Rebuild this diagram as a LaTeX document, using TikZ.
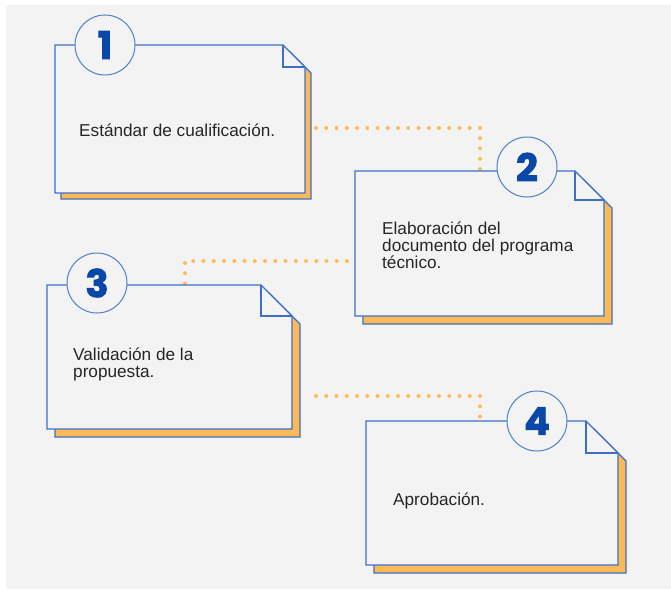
\documentclass[tikz,border=0pt]{standalone}
\usepackage{fontspec}
\setmainfont{Liberation Sans}
\newfontfamily\numfont[BoldFeatures={FakeBold=2.5}]{Poppins}

\definecolor{bggray}{HTML}{F3F3F3}
\definecolor{cardblue}{HTML}{3D6FC6}
\definecolor{ringblue}{HTML}{4F7FCB}
\definecolor{numblue}{HTML}{0B47A8}
\definecolor{shadoworange}{HTML}{FDB955}
\definecolor{dotorange}{HTML}{FFBB55}
\definecolor{textgray}{HTML}{262626}

\tikzset{
  cardback/.style={fill=shadoworange, draw=cardblue, line width=1.1pt},
  cardfront/.style={fill=bggray, draw=cardblue, line width=1.1pt, line join=miter},
  numdisc/.style={circle, minimum size=60pt, inner sep=0pt, fill=bggray,
    draw=ringblue, line width=1pt, text=numblue,
    font=\numfont\bfseries\fontsize{38}{38}\selectfont},
  % base of a multi-line text is its last line
  cardtext/.style={anchor=base west, inner sep=0pt, align=left, text=textgray,
    font=\fontsize{17.2}{16.6}\selectfont},
  dotline/.style={draw=dotorange, line width=4pt, line cap=round,
    dash pattern=on 0pt off 10.25pt},
}

% #1 name, #2 left, #3 top, #4 right, #5 bottom, #6 fold, #7 shadow shift
\newcommand{\notecard}[7]{%
  \draw[cardback] (#2+#7,#3+#7) -- (#4-#6+#7,#3+#7) -- (#4+#7,#3+#6+#7)
    -- (#4+#7,#5+#7) -- (#2+#7,#5+#7) -- cycle;
  \draw[cardfront] (#2,#3) -- (#4-#6,#3) -- (#4,#3+#6) -- (#4,#5) -- (#2,#5) -- cycle;
  \draw[cardfront, fill=none] (#4-#6,#3) -- (#4-#6,#3+#6) -- (#4,#3+#6);
  \coordinate (#1) at (#2,#3);
}

\begin{document}
\begin{tikzpicture}[x=1pt, y=-1pt]
  \useasboundingbox (0,0) rectangle (671,589);
  \fill[bggray] (6,5) rectangle (671,589);

  % Dotted links between the steps
  \coordinate (s12) at (316,128);
  \coordinate (e12) at (480,171);
  \coordinate (s23) at (347,261);
  \coordinate (e23) at (185,285);
  \coordinate (s34) at (316,396);
  \coordinate (e34) at (480,421);
  \draw[dotline] (s12) -| (e12);
  \draw[dotline] (s23) -| (e23);
  \draw[dotline] (s34) -| (e34);

  % Cards
  \notecard{card1}{55}{45}{305}{193}{22}{6}
  \notecard{card2}{355}{171}{604}{316}{29}{8}
  \notecard{card3}{47}{285}{292}{429}{31}{8}
  \notecard{card4}{366}{421}{618}{565}{32}{8}

  % Step numbers
  \node[numdisc] (n1) at (105,45) {1};
  \node[numdisc] (n2) at (527,167) {2};
  \node[numdisc] (n3) at (97,283) {3};
  \node[numdisc] (n4) at (537,421) {4};

  % Texts
  \node[cardtext] (t1) at (79,136) {Estándar de cualificación.};
  \node[cardtext] (t2) at (382,268) {Elaboración del\\documento del programa\\técnico.};
  \node[cardtext] (t3) at (73,377) {Validación de la\\propuesta.};
  \node[cardtext] (t4) at (393,505) {Aprobación.};
\end{tikzpicture}
\end{document}
